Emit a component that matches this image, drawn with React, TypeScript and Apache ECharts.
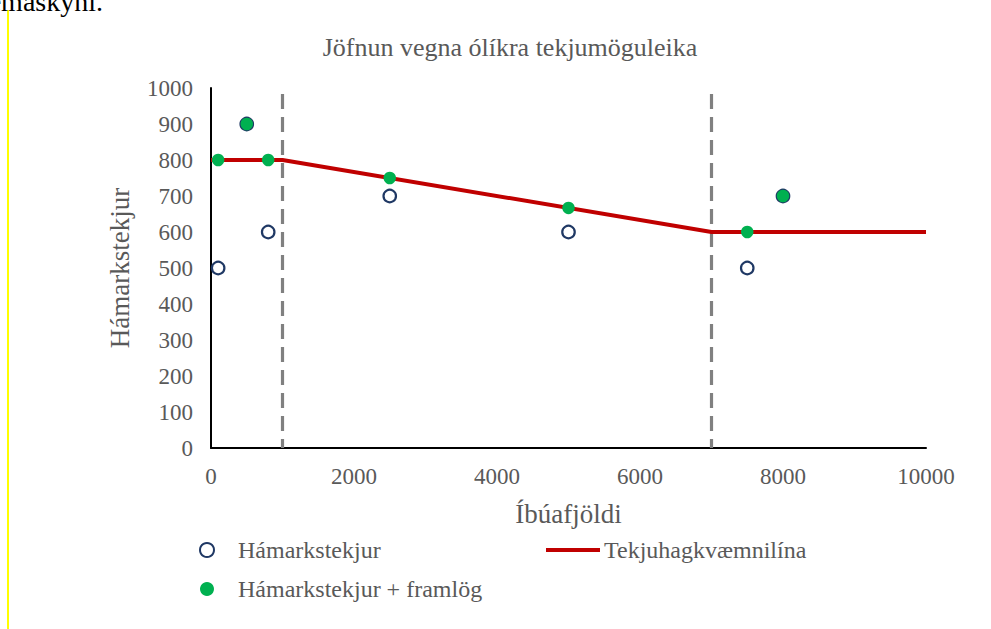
import React, { useEffect, useRef } from "react";
import * as echarts from "echarts";

const titleText = "Jöfnun vegna ólíkra tekjumöguleika";
const xName = "Íbúafjöldi";
const yName = "Hámarkstekjur";

const maxIncomeName = "Hámarkstekjur";
const maxIncomePlusName = "Hámarkstekjur + framlög";
const efficiencyName = "Tekjuhagkvæmnilína";

const maxIncome: [number, number][] = [
  [100, 500],
  [500, 900],
  [800, 600],
  [2500, 700],
  [5000, 600],
  [7500, 500],
  [8000, 700],
];

const maxIncomePlus: [number, number][] = [
  [100, 800],
  [500, 900],
  [800, 800],
  [2500, 750],
  [5000, 667],
  [7500, 600],
  [8000, 700],
];

const efficiencyLine: [number, number][] = [
  [0, 800],
  [1000, 800],
  [7000, 600],
  [10000, 600],
];

const thresholds = [1000, 7000];

const SERIF = "'Liberation Serif', 'Times New Roman', serif";
const GREY = "#595959";
const NAVY = "#1F3864";
const GREEN = "#00B050";
const RED = "#C00000";

export default function App() {
  const ref = useRef<HTMLDivElement>(null);
  useEffect(() => {
    if (!ref.current) return;
    const chart = echarts.init(ref.current, undefined, { renderer: "svg" });
    const thresholdSeries = thresholds.map((t) => ({
      type: "line",
      name: "threshold-" + t,
      data: [
        [t, 0],
        [t, 1000],
      ],
      showSymbol: false,
      silent: true,
      lineStyle: { color: "#808080", width: 3.2, type: [15, 8], dashOffset: 6 },
      z: 1,
    }));
    chart.setOption({
      animation: false,
      backgroundColor: "#ffffff",
      textStyle: { fontFamily: SERIF },
      title: {
        text: titleText,
        left: 505,
        top: 29,
        textAlign: "center",
        textStyle: { fontFamily: SERIF, fontSize: 26, fontWeight: "normal", color: GREY },
      },
      grid: { left: 211, right: 65, top: 88, bottom: 181, containLabel: false },
      xAxis: {
        type: "value",
        min: 0,
        max: 10000,
        interval: 2000,
        name: xName,
        nameLocation: "middle",
        nameGap: 52,
        nameTextStyle: { fontFamily: SERIF, fontSize: 27, color: GREY },
        axisLine: { show: true, onZero: false, lineStyle: { color: "#000", width: 2 } },
        axisTick: { show: false },
        splitLine: { show: false },
        axisLabel: {
          fontFamily: SERIF,
          fontSize: 23,
          color: GREY,
          margin: 17,
          formatter: (v: number) => String(v),
        },
      },
      yAxis: {
        type: "value",
        min: 0,
        max: 1000,
        interval: 100,
        name: yName,
        nameLocation: "middle",
        nameGap: 78,
        nameRotate: 90,
        nameTextStyle: { fontFamily: SERIF, fontSize: 27, color: GREY },
        axisLine: { show: true, lineStyle: { color: "#000", width: 2 } },
        axisTick: { show: false },
        splitLine: { show: false },
        axisLabel: {
          fontFamily: SERIF,
          fontSize: 23,
          color: GREY,
          margin: 18,
          formatter: (v: number) => String(v),
        },
      },
      legend: [
        {
          orient: "vertical",
          left: 194,
          top: 533,
          itemGap: 15,
          itemWidth: 14,
          itemHeight: 14,
          textStyle: { fontFamily: SERIF, fontSize: 24, color: GREY, padding: [0, 0, 0, 19] },
          data: [
            {
              name: maxIncomeName,
              icon: "circle",
              itemStyle: { color: "#ffffff", borderColor: NAVY, borderWidth: 2 },
            },
            { name: maxIncomePlusName, icon: "circle", itemStyle: { color: GREEN, borderWidth: 0 } },
          ],
        },
        {
          left: 541,
          top: 533,
          itemWidth: 54,
          itemHeight: 4,
          textStyle: { fontFamily: SERIF, fontSize: 24, color: GREY, padding: [0, 0, 0, -1] },
          data: [{ name: efficiencyName, icon: "rect", itemStyle: { color: RED } }],
        },
      ],
      graphic: [
        {
          type: "line",
          shape: { x1: 8, y1: 10, x2: 8, y2: 629 },
          style: { stroke: "#FFFF00", lineWidth: 2 },
          silent: true,
        },
        {
          type: "text",
          x: 103,
          y: 15,
          style: {
            text: "dæmaskyni.",
            fontFamily: SERIF,
            fontSize: 28,
            fill: "#000",
            align: "right",
            verticalAlign: "bottom",
          },
          silent: true,
        },
      ],
      series: [
        ...thresholdSeries,
        {
          type: "line",
          name: efficiencyName,
          data: efficiencyLine,
          showSymbol: false,
          lineStyle: { color: RED, width: 4 },
          itemStyle: { color: RED },
          z: 2,
        },
        {
          type: "scatter",
          name: maxIncomeName,
          data: maxIncome,
          symbol: "circle",
          symbolSize: 12.5,
          itemStyle: { color: "#ffffff", borderColor: NAVY, borderWidth: 2.2, opacity: 1 },
          z: 3,
        },
        {
          type: "scatter",
          name: maxIncomePlusName,
          data: maxIncomePlus,
          symbol: "circle",
          symbolSize: 12.5,
          itemStyle: { color: GREEN, opacity: 1 },
          z: 4,
        },
      ],
    });
    return () => chart.dispose();
  }, []);
  return (
    <div
      ref={ref}
      style={{ position: "absolute", left: 0, top: 0, width: 991, height: 629 }}
    />
  );
}
